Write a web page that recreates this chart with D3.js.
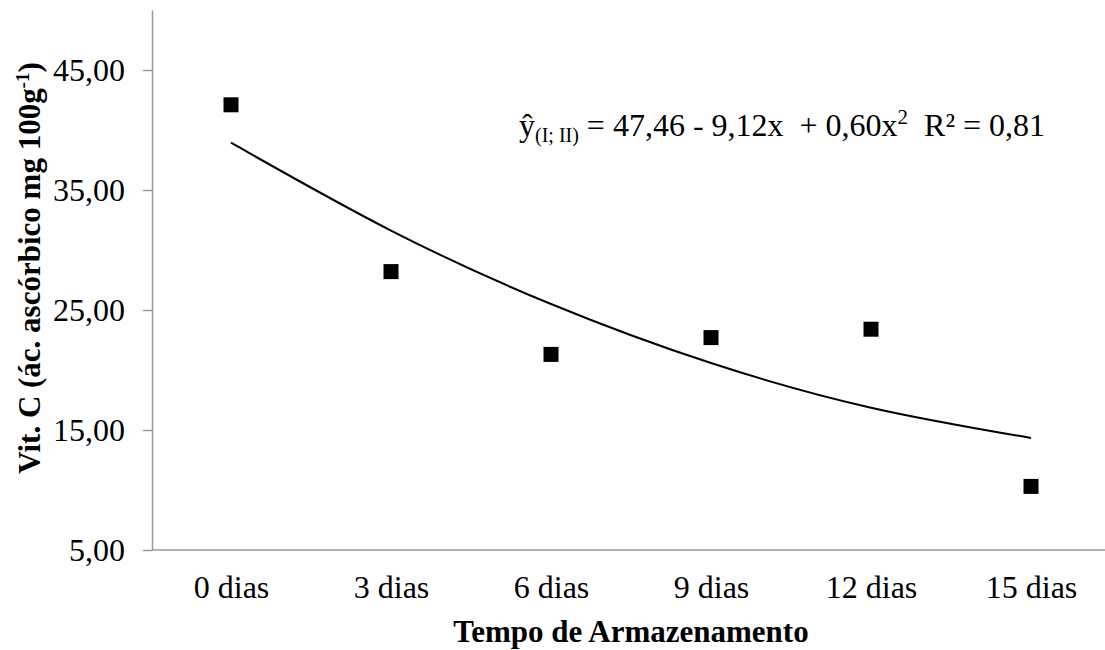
<!DOCTYPE html>
<html lang="pt">
<head>
  <meta charset="UTF-8">
  <script src="https://d3js.org/d3.v7.min.js"></script>
  <style>
    body { margin: 0; background: #fff; }
  </style>
</head>
<body>
  <script>
    var width = 1105, height = 650;
    var margin = {top: 10, right: 0, bottom: 100, left: 152};
    var serif = '"Times New Roman", "Liberation Serif", serif';

    // data
    var categories = ['0 dias', '3 dias', '6 dias', '9 dias', '12 dias', '15 dias'];
    var observed = [42.1, 28.2, 21.3, 22.7, 23.4, 10.3];
    var fitted = [38.94, 31.62, 25.50, 20.58, 16.86, 14.34];
    var yTicks = [5, 15, 25, 35, 45];

    var svg = d3.select('body').append('svg')
      .attr('width', width)
      .attr('height', height);

    var x = d3.scalePoint()
      .domain(categories)
      .range([margin.left - 1, 1111])
      .padding(0.5);

    var y = d3.scaleLinear()
      .domain([5, 50])
      .range([height - margin.bottom, margin.top]);

    var fmt = function(d) { return d3.format('.2f')(d).replace('.', ','); };

    // Y axis
    var yAxis = svg.append('g')
      .attr('transform', 'translate(' + margin.left + ',0)')
      .call(d3.axisLeft(y).tickValues(yTicks).tickFormat(fmt).tickSize(9).tickSizeOuter(0).tickPadding(18));
    yAxis.select('.domain').attr('stroke', '#999').attr('stroke-width', 1.5);
    yAxis.selectAll('.tick line').attr('stroke', '#999').attr('stroke-width', 1.5);

    // X axis
    var xAxis = svg.append('g')
      .attr('transform', 'translate(0,' + y(5) + ')')
      .call(d3.axisBottom(x).tickSize(0).tickSizeOuter(0).tickPadding(25));
    xAxis.select('.domain').attr('d', 'M' + margin.left + ',0H' + width)
      .attr('stroke', '#999').attr('stroke-width', 1.5);

    svg.selectAll('.tick text')
      .attr('fill', '#000')
      .style('font-family', serif)
      .style('font-size', '32px');

    // trend line
    svg.append('path')
      .datum(fitted)
      .attr('fill', 'none')
      .attr('stroke', '#000')
      .attr('stroke-width', 2)
      .attr('d', d3.line()
        .x(function(d, i) { return x(categories[i]); })
        .y(function(d) { return y(d); })
        .curve(d3.curveNatural));

    // observed points
    var s = 15;
    svg.selectAll('rect.pt')
      .data(observed)
      .enter().append('rect')
      .attr('class', 'pt')
      .attr('x', function(d, i) { return x(categories[i]) - s / 2; })
      .attr('y', function(d) { return y(d) - s / 2; })
      .attr('width', s)
      .attr('height', s)
      .attr('fill', '#000');

    // equation
    var eq = svg.append('text')
      .attr('x', 519)
      .attr('y', 136)
      .style('font-family', serif)
      .style('font-size', '32px')
      .style('white-space', 'pre');
    eq.append('tspan').text('ŷ');
    eq.append('tspan').attr('dy', 6).style('font-size', '20px').text('(I; II)');
    eq.append('tspan').attr('dy', -6).text(' = 47,46 - 9,12x  + 0,60x');
    eq.append('tspan').attr('dy', -12).style('font-size', '21px').text('2');
    eq.append('tspan').attr('dy', 12).text('  R² = 0,81');

    // axis titles
    svg.append('text')
      .attr('x', 631)
      .attr('y', 642)
      .attr('text-anchor', 'middle')
      .style('font-family', serif)
      .style('font-size', '31px')
      .style('font-weight', 'bold')
      .text('Tempo de Armazenamento');

    var yl = svg.append('text')
      .attr('transform', 'translate(40,268) rotate(-90)')
      .attr('text-anchor', 'middle')
      .style('font-family', serif)
      .style('font-size', '31px')
      .style('font-weight', 'bold');
    yl.append('tspan').text('Vit. C (ác. ascórbico mg 100g');
    yl.append('tspan').attr('dy', -11).style('font-size', '19px').text('-1');
    yl.append('tspan').attr('dy', 11).text(')');
  </script>
</body>
</html>
